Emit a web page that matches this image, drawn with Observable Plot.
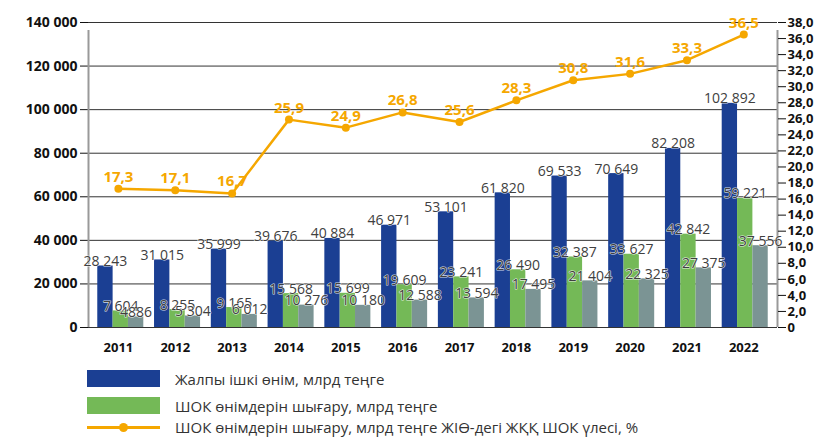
<!DOCTYPE html>
<html><head><meta charset="utf-8">
<script src="https://cdn.jsdelivr.net/npm/d3@7"></script>
<script src="https://cdn.jsdelivr.net/npm/@observablehq/plot@0.6"></script>
<style>
body{margin:0;background:#fff;font-family:"Open Sans",sans-serif;}
#chart{position:relative;width:818px;height:362px;}
#chart svg{position:absolute;left:0;top:0;overflow:visible;background:transparent !important;}
#layerB text{paint-order:stroke;}
.lg{position:absolute;left:0;width:818px;height:20px;}
.sw{position:absolute;left:87px;width:73px;}
.lt{position:absolute;left:175px;top:0;line-height:20px;font-size:15px;color:#333;white-space:nowrap;}
</style></head><body>
<div id="chart"></div>
<div id="legend"></div>
<script>
const years = ["2011","2012","2013","2014","2015","2016","2017","2018","2019","2020","2021","2022"];
const gdp = [28243,31015,35999,39676,40884,46971,53101,61820,69533,70649,82208,102892];
const smeOutput = [7604,8255,9165,15568,15699,19609,23241,26490,32387,33627,42842,59221];
const thirdSeries = [4886,5304,6012,10276,10180,12588,13594,17495,21404,22325,27375,37556];
const thirdLabels = ["4886","5 304","6 012","10 276","10 180","12 588","13 594","17 495","21 404","22 325","27 375","37 556"];
const smeShare = [17.3,17.1,16.7,25.9,24.9,26.8,25.6,28.3,30.8,31.6,33.3,36.5];
const leftTicks = [0,20000,40000,60000,80000,100000,120000,140000];
const rightTicks = [0,2,4,6,8,10,12,14,16,18,20,22,24,26,28,30,32,34,36,38];
const seriesNames = ["Жалпы ішкі өнім, млрд теңге","ШОК өнімдерін шығару, млрд теңге","other"];
const seriesColors = ["#1b3f93","#74b957","#7b9494"];
const lineColor = "#f5a700";

const fmtLeft = d => d3.format(",")(d).replace(/,/g," ");
const fmtRight = d => d === 0 ? "0" : d.toFixed(1).replace(".",",");
const fmtShare = d => d.toFixed(1).replace(".",",");

const barRows = [];
years.forEach((y,i) => {
  barRows.push({year:y, series:seriesNames[0], value:gdp[i], label:fmtLeft(gdp[i])});
  barRows.push({year:y, series:seriesNames[1], value:smeOutput[i], label:fmtLeft(smeOutput[i])});
  barRows.push({year:y, series:seriesNames[2], value:thirdSeries[i], label:thirdLabels[i]});
});
const lineRows = years.map((y,i) => ({year:y, share:smeShare[i]}));

const common = {width:818, height:362, marginLeft:88, marginRight:41, marginTop:22, marginBottom:35};
const chart = document.getElementById("chart");

// Layer A: grid and left axis, axis lines
const A = Plot.plot({
  ...common,
  style:{background:"transparent", fontFamily:"Open Sans", fontSize:"14px", fontWeight:"bold", color:"#111"},
  x:{domain:[0,1], axis:null},
  y:{domain:[0,140000], ticks:leftTicks, tickFormat:fmtLeft, tickSize:8, tickPadding:3, label:null},
  marks:[
    Plot.ruleY(leftTicks, {stroke:"#333", strokeWidth:1}),
    Plot.ruleX([0,1], {y1:0, y2:140000, stroke:"#999", strokeWidth:2, insetBottom:-8})
  ]
});
A.id = "layerA";
chart.appendChild(A);

// Layer B: grouped bars with value labels
const B = Plot.plot({
  ...common,
  style:{background:"transparent", fontFamily:"Open Sans", fontSize:"14px"},
  facet:{data:barRows, x:"year"},
  fx:{domain:years, range:[91.9, 773.1], padding:0, round:false, axis:null, label:null},
  x:{domain:seriesNames, paddingInner:0, paddingOuter:0.35, round:false, axis:null},
  y:{domain:[0,140000], axis:null},
  color:{domain:seriesNames, range:seriesColors},
  marks:[
    Plot.barY(barRows, {x:"series", y:"value", fill:"series"}),
    Plot.text(barRows, {x:"series", y:"value", text:"label", lineAnchor:"bottom", dy:0,
      fill:"#404040", stroke:"white", strokeWidth:1.2, strokeOpacity:0.8, paintOrder:"stroke", fontSize:14})
  ]
});
B.id = "layerB";
chart.appendChild(B);

// Layer C: share line, right axis, year labels
const C = Plot.plot({
  ...common,
  style:{background:"transparent", fontFamily:"Open Sans", fontSize:"13px", fontWeight:"bold", color:"#111"},
  x:{type:"point", domain:years, range:[117.9, 743.3], padding:0, round:false, tickSize:0, tickPadding:15, label:null},
  y:{domain:[0,38], axis:"right", ticks:rightTicks, tickFormat:fmtRight, tickSize:8, tickPadding:2, label:null},
  marks:[
    Plot.line(lineRows, {x:"year", y:"share", stroke:lineColor, strokeWidth:2.5}),
    Plot.dot(lineRows, {x:"year", y:"share", r:4, fill:lineColor}),
    Plot.text(lineRows, {x:"year", y:"share", text:d => fmtShare(d.share), lineAnchor:"bottom", dy:-7,
      fill:lineColor, fontSize:15, fontWeight:"bold"})
  ]
});
C.id = "layerC";
chart.appendChild(C);

// Legend
const legend = document.getElementById("legend");
const items = [
  {label:seriesNames[0], color:seriesColors[0], type:"rect", y:369},
  {label:seriesNames[1], color:seriesColors[1], type:"rect", y:396},
  {label:"ШОК өнімдерін шығару, млрд теңге ЖІӨ-дегі ЖҚҚ ШОК үлесі, %", color:lineColor, type:"line", y:417}
];
items.forEach(it => {
  const row = document.createElement("div");
  row.className = "lg";
  row.style.top = it.y + "px";
  const sw = document.createElement("div");
  sw.className = "sw";
  if (it.type === "rect") {
    sw.style.top = "1px"; sw.style.height = "17px"; sw.style.background = it.color;
  } else {
    sw.style.top = "9px"; sw.style.height = "3px"; sw.style.background = it.color;
    const dot = document.createElement("div");
    dot.style.cssText = `position:absolute;left:32px;top:-3px;width:9px;height:9px;border-radius:50%;background:${it.color}`;
    sw.appendChild(dot);
  }
  const t = document.createElement("div");
  t.className = "lt";
  t.textContent = it.label;
  row.appendChild(sw); row.appendChild(t);
  legend.appendChild(row);
});
</script>
</body></html>
